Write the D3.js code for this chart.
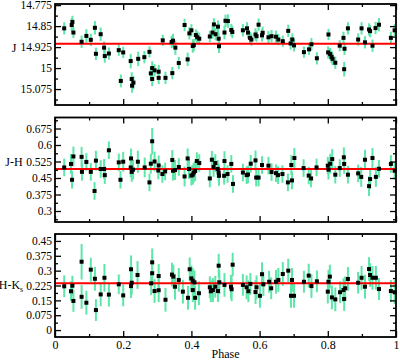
<!DOCTYPE html>
<html>
<head>
<meta charset="utf-8">
<title>Phase curves</title>
<script src="https://d3js.org/d3.v7.min.js"></script>
<style>
body { margin: 0; background: #fff; }
text { font-family: "Liberation Serif", "DejaVu Serif", serif; fill: #000; }
</style>
</head>
<body>
<div class="chart"></div>
<script>
// [phase, value, error]
var jData = [
  [0.027,14.858,0.022],[0.049,14.846,0.024],[0.051,14.835,0.022],[0.054,14.873,0.020],[0.078,14.906,0.022],
  [0.092,14.885,0.024],[0.105,14.899,0.022],[0.117,14.856,0.024],[0.120,14.949,0.022],[0.134,14.879,0.024],
  [0.144,14.927,0.022],[0.146,14.957,0.024],[0.158,14.948,0.022],[0.187,14.936,0.020],[0.193,15.046,0.023],
  [0.200,14.944,0.020],[0.222,14.975,0.026],[0.225,15.039,0.024],[0.226,15.063,0.025],[0.230,15.052,0.024],
  [0.244,14.967,0.026],[0.262,14.961,0.022],[0.277,14.942,0.020],[0.281,15.019,0.024],[0.285,15.000,0.024],
  [0.285,15.039,0.026],[0.292,15.008,0.022],[0.304,15.013,0.024],[0.304,15.035,0.022],[0.316,14.901,0.020],
  [0.324,15.035,0.022],[0.342,14.907,0.022],[0.346,14.902,0.024],[0.344,15.018,0.022],[0.353,14.927,0.026],
  [0.363,14.982,0.022],[0.380,14.846,0.022],[0.389,14.969,0.024],[0.394,14.876,0.022],[0.400,14.865,0.022],
  [0.404,14.921,0.024],[0.407,14.918,0.022],[0.413,14.882,0.020],[0.417,14.890,0.022],[0.423,14.895,0.022],
  [0.454,14.887,0.020],[0.462,14.873,0.022],[0.466,14.844,0.022],[0.471,14.879,0.022],[0.478,14.852,0.022],
  [0.480,14.895,0.022],[0.481,14.922,0.024],[0.497,14.873,0.024],[0.500,14.831,0.022],[0.507,14.832,0.024],
  [0.517,14.864,0.022],[0.520,14.871,0.022],[0.551,14.865,0.022],[0.563,14.858,0.022],[0.566,14.873,0.022],
  [0.572,14.892,0.022],[0.576,14.898,0.022],[0.588,14.880,0.022],[0.591,14.886,0.020],[0.597,14.845,0.022],
  [0.607,14.883,0.022],[0.609,14.874,0.022],[0.626,14.890,0.022],[0.635,14.886,0.022],[0.648,14.888,0.022],
  [0.655,14.898,0.020],[0.668,14.904,0.020],[0.684,14.867,0.022],[0.691,14.912,0.022],[0.696,14.898,0.022],
  [0.701,14.919,0.022],[0.730,14.943,0.020],[0.745,14.933,0.020],[0.752,14.915,0.022],[0.768,14.965,0.022],
  [0.802,14.880,0.020],[0.801,14.944,0.022],[0.807,14.950,0.022],[0.811,14.960,0.022],[0.814,14.967,0.022],
  [0.822,14.981,0.022],[0.835,14.920,0.020],[0.846,14.892,0.022],[0.849,14.931,0.022],[0.848,15.004,0.026],
  [0.859,14.858,0.022],[0.889,14.898,0.022],[0.899,14.858,0.022],[0.909,14.908,0.022],[0.921,14.862,0.022],
  [0.924,14.868,0.022],[0.931,14.920,0.022],[0.940,14.857,0.022],[0.950,14.845,0.024],[0.985,14.892,0.022],
  [0.996,14.865,0.022]
];
var jhData = [
  [0.027,0.498,0.040],[0.047,0.514,0.045],[0.050,0.442,0.040],[0.054,0.548,0.045],[0.078,0.546,0.045],
  [0.079,0.478,0.040],[0.092,0.523,0.040],[0.105,0.478,0.040],[0.116,0.391,0.040],[0.120,0.529,0.045],
  [0.134,0.491,0.040],[0.144,0.491,0.045],[0.146,0.463,0.040],[0.158,0.576,0.040],[0.187,0.521,0.040],
  [0.192,0.442,0.040],[0.200,0.524,0.045],[0.222,0.498,0.045],[0.223,0.539,0.045],[0.225,0.478,0.045],
  [0.229,0.488,0.045],[0.243,0.524,0.050],[0.263,0.498,0.045],[0.277,0.430,0.040],[0.281,0.515,0.045],
  [0.285,0.617,0.060],[0.292,0.525,0.045],[0.303,0.484,0.040],[0.304,0.507,0.045],[0.315,0.468,0.040],
  [0.323,0.480,0.040],[0.344,0.532,0.045],[0.346,0.483,0.045],[0.352,0.486,0.045],[0.363,0.500,0.040],
  [0.380,0.457,0.045],[0.389,0.539,0.045],[0.393,0.491,0.045],[0.400,0.461,0.045],[0.404,0.465,0.045],
  [0.407,0.475,0.045],[0.411,0.482,0.045],[0.416,0.527,0.040],[0.423,0.518,0.040],[0.454,0.448,0.040],
  [0.460,0.533,0.040],[0.465,0.500,0.045],[0.470,0.518,0.040],[0.477,0.491,0.040],[0.480,0.475,0.040],
  [0.481,0.460,0.045],[0.496,0.460,0.040],[0.497,0.527,0.045],[0.506,0.468,0.040],[0.517,0.514,0.040],
  [0.522,0.423,0.040],[0.551,0.475,0.040],[0.562,0.463,0.040],[0.566,0.466,0.040],[0.574,0.515,0.040],
  [0.588,0.530,0.045],[0.590,0.452,0.040],[0.597,0.452,0.040],[0.607,0.509,0.040],[0.626,0.506,0.040],
  [0.635,0.477,0.040],[0.648,0.472,0.040],[0.654,0.463,0.040],[0.667,0.468,0.040],[0.683,0.430,0.040],
  [0.693,0.509,0.045],[0.695,0.439,0.040],[0.702,0.541,0.045],[0.729,0.495,0.040],[0.744,0.461,0.040],
  [0.751,0.448,0.040],[0.767,0.498,0.040],[0.800,0.506,0.040],[0.802,0.488,0.045],[0.807,0.515,0.045],
  [0.813,0.536,0.045],[0.822,0.465,0.040],[0.835,0.495,0.040],[0.847,0.544,0.045],[0.848,0.514,0.045],
  [0.859,0.465,0.040],[0.889,0.471,0.040],[0.898,0.455,0.045],[0.909,0.533,0.045],[0.921,0.413,0.045],
  [0.924,0.445,0.045],[0.931,0.541,0.045],[0.941,0.455,0.045],[0.950,0.492,0.040],[0.985,0.514,0.040],
  [0.996,0.483,0.040]
];
var hkData = [
  [0.027,0.221,0.055],[0.047,0.196,0.050],[0.051,0.224,0.050],[0.054,0.147,0.055],[0.078,0.345,0.090],
  [0.078,0.168,0.060],[0.092,0.138,0.060],[0.105,0.305,0.060],[0.117,0.259,0.060],[0.120,0.101,0.055],
  [0.134,0.180,0.060],[0.145,0.264,0.070],[0.158,0.179,0.060],[0.187,0.231,0.050],[0.200,0.175,0.055],
  [0.223,0.307,0.070],[0.223,0.222,0.060],[0.225,0.239,0.060],[0.242,0.278,0.070],[0.282,0.236,0.060],
  [0.285,0.342,0.070],[0.285,0.287,0.060],[0.292,0.197,0.060],[0.304,0.273,0.060],[0.304,0.201,0.060],
  [0.324,0.153,0.060],[0.343,0.280,0.060],[0.347,0.270,0.060],[0.352,0.219,0.065],[0.363,0.253,0.060],
  [0.375,0.194,0.060],[0.390,0.163,0.060],[0.395,0.307,0.060],[0.400,0.261,0.065],[0.404,0.249,0.065],
  [0.404,0.202,0.060],[0.409,0.241,0.060],[0.411,0.163,0.060],[0.422,0.186,0.060],[0.454,0.216,0.055],
  [0.457,0.196,0.055],[0.463,0.202,0.060],[0.470,0.219,0.055],[0.478,0.197,0.055],[0.480,0.325,0.060],
  [0.482,0.241,0.060],[0.497,0.228,0.060],[0.516,0.219,0.060],[0.518,0.206,0.060],[0.521,0.330,0.060],
  [0.551,0.228,0.055],[0.562,0.216,0.060],[0.567,0.196,0.055],[0.573,0.233,0.055],[0.588,0.192,0.060],
  [0.591,0.216,0.060],[0.601,0.173,0.060],[0.607,0.282,0.060],[0.611,0.231,0.060],[0.628,0.244,0.055],
  [0.634,0.211,0.055],[0.648,0.244,0.060],[0.655,0.253,0.060],[0.668,0.283,0.060],[0.684,0.300,0.060],
  [0.692,0.173,0.060],[0.695,0.253,0.060],[0.701,0.173,0.060],[0.730,0.244,0.055],[0.744,0.275,0.060],
  [0.752,0.222,0.060],[0.768,0.246,0.055],[0.800,0.194,0.060],[0.802,0.244,0.060],[0.806,0.270,0.060],
  [0.812,0.165,0.060],[0.822,0.155,0.060],[0.836,0.191,0.055],[0.846,0.202,0.060],[0.848,0.157,0.060],
  [0.851,0.211,0.060],[0.859,0.258,0.060],[0.889,0.239,0.055],[0.899,0.264,0.060],[0.909,0.219,0.060],
  [0.921,0.308,0.060],[0.924,0.278,0.060],[0.931,0.264,0.060],[0.941,0.264,0.060],[0.950,0.207,0.055],
  [0.985,0.197,0.055],[0.996,0.191,0.060]
];

var jMean = 14.913, jhMean = 0.491, hkMean = 0.236;
var jTicks = [14.775, 14.85, 14.925, 15, 15.075];
var jhTicks = [0.3, 0.375, 0.45, 0.525, 0.6, 0.675];
var hkTicks = [0, 0.075, 0.15, 0.225, 0.3, 0.375, 0.45];
var phaseTicks = [0, 0.2, 0.4, 0.6, 0.8, 1];

var W = 400, H = 362;
var left = 55, right = 396;

var svg = d3.select(".chart").append("svg")
    .attr("width", W)
    .attr("height", H);

var x = d3.scaleLinear().domain([0, 1]).range([left, right]);

var panels = [
  {data: jData, mean: jMean, ticks: jTicks, label: "J", top: 4, bottom: 105, domain: [14.771, 15.132], flip: true, labelY: 52},
  {data: jhData, mean: jhMean, ticks: jhTicks, label: "J-H", top: 117.5, bottom: 222, domain: [0.25, 0.725], labelY: 166},
  {data: hkData, mean: hkMean, ticks: hkTicks, label: "H-K", sub: "s", top: 234, bottom: 337, domain: [-0.035, 0.485], labelY: 289}
];

var green = "#5ce6a8";
var minorX = d3.range(0.1, 1, 0.2);

panels.forEach(function(p, i) {
  var y = d3.scaleLinear().domain(p.domain)
      .range(p.flip ? [p.top, p.bottom] : [p.bottom, p.top]);
  var step = p.ticks[1] - p.ticks[0];
  var minorY = p.ticks.map(function(t) { return t + step / 2; })
      .concat([p.ticks[0] - step / 2])
      .filter(function(v) { var a = Math.min(p.domain[0], p.domain[1]), b = Math.max(p.domain[0], p.domain[1]); return v > a && v < b; });

  var g = svg.append("g");

  // error bars
  g.selectAll(".err").data(p.data).enter().append("line")
      .attr("x1", function(d) { return x(d[0]); })
      .attr("x2", function(d) { return x(d[0]); })
      .attr("y1", function(d) { return y(d[1] - d[2]); })
      .attr("y2", function(d) { return y(d[1] + d[2]); })
      .attr("stroke", green)
      .attr("stroke-width", 2);

  // mean line
  g.append("line")
      .attr("x1", left).attr("x2", right)
      .attr("y1", y(p.mean)).attr("y2", y(p.mean))
      .attr("stroke", "#f00")
      .attr("stroke-width", 2);

  // points
  g.selectAll(".pt").data(p.data).enter().append("rect")
      .attr("x", function(d) { return x(d[0]) - 2; })
      .attr("y", function(d) { return y(d[1]) - 2; })
      .attr("width", 4)
      .attr("height", 4)
      .attr("fill", "#000");

  // y axes, ticks inside
  var yl = g.append("g").attr("transform", "translate(" + left + ",0)")
      .call(d3.axisLeft(y).tickValues(p.ticks).tickSize(-6).tickPadding(3)
        .tickFormat(function(v) { return String(+v.toFixed(3)); }));
  yl.selectAll("text").style("font-size", "11.5px");
  g.append("g").attr("transform", "translate(" + left + ",0)")
      .call(d3.axisLeft(y).tickValues(minorY).tickSize(-3).tickFormat(""));
  g.append("g").attr("transform", "translate(" + right + ",0)")
      .call(d3.axisRight(y).tickValues(p.ticks).tickSize(-6).tickFormat(""));
  g.append("g").attr("transform", "translate(" + right + ",0)")
      .call(d3.axisRight(y).tickValues(minorY).tickSize(-3).tickFormat(""));

  // x axes, top and bottom
  var xb = g.append("g").attr("transform", "translate(0," + p.bottom + ")")
      .call(d3.axisBottom(x).tickValues(phaseTicks).tickSize(-6).tickPadding(3)
        .tickFormat(i === 2 ? function(v) { return String(v); } : ""));
  xb.selectAll("text").style("font-size", "12px");
  g.append("g").attr("transform", "translate(0," + p.bottom + ")")
      .call(d3.axisBottom(x).tickValues(minorX).tickSize(-3).tickFormat(""));
  g.append("g").attr("transform", "translate(0," + p.top + ")")
      .call(d3.axisTop(x).tickValues(phaseTicks).tickSize(-6).tickFormat(""));
  g.append("g").attr("transform", "translate(0," + p.top + ")")
      .call(d3.axisTop(x).tickValues(minorX).tickSize(-3).tickFormat(""));

  g.selectAll(".domain").remove();
  g.selectAll(".tick line").attr("stroke", "#000").attr("stroke-width", 1.3);

  // frame
  g.append("rect")
      .attr("x", left).attr("y", p.top)
      .attr("width", right - left).attr("height", p.bottom - p.top)
      .attr("fill", "none")
      .attr("stroke", "#000")
      .attr("stroke-width", 1.8);

  // axis label
  var lab = g.append("text")
      .attr("x", 14)
      .attr("y", p.labelY)
      .attr("text-anchor", "middle")
      .style("font-size", "12px")
      .text(p.label);
  if (p.sub) {
    lab.attr("x", 11);
    lab.append("tspan").attr("dy", 3).style("font-size", "8px").text(p.sub);
  }
});

svg.append("text")
    .attr("x", x(0.5))
    .attr("y", 358)
    .attr("text-anchor", "middle")
    .style("font-size", "12px")
    .text("Phase");
</script>
</body>
</html>
